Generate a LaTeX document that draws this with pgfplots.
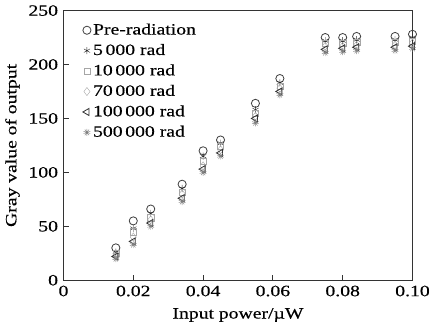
\documentclass[border=0pt]{standalone}
\usepackage{fontspec}
\setmainfont[FakeStretch=1.25,FakeBold=0.4]{Liberation Serif}
\usepackage{pgfplots}
\pgfplotsset{compat=1.18}
\usetikzlibrary{plotmarks}
\pgfplotstableread{
x pre r5k r10k r70k r100k r500k
0.015 30 26 25 23 22 20
0.020 55 48 45 40 36 33
0.025 66 62 58 56 53 50
0.034 89 85 82 80 76 73
0.040 120 115 110 106 103 100
0.045 130 127 124 121 118 115
0.055 164 158 155 152 150 146
0.062 187 183 180 178 175 172
0.075 225 222 220 217 214 211
0.080 225 222 220 217 215 212
0.084 226 223 221 218 216 213
0.095 226 223 221 218 216 213
0.100 228 225 222 220 217 215
}\data
\begin{document}
\fontsize{15.5}{18}\selectfont
\begin{tikzpicture}
\begin{axis}[
  scale only axis, width=343pt, height=265pt,
  xmin=0, xmax=0.1, ymin=0, ymax=250,
  xtick={0,0.02,0.04,0.06,0.08,0.1},
  xticklabels={0,0.02,0.04,0.06,0.08,0.10},
  ytick={0,50,100,150,200,250},
  tick pos=left, tick align=inside,
  major tick length=5pt,
  /pgf/number format/assume math mode=true,
  tick label style={font=\fontsize{15.5}{18}\selectfont},
  label style={font=\fontsize{15.5}{18}\selectfont},
  xlabel={Input\hspace{0.3em}power/\textmu W},
  ylabel={Gray\hspace{0.3em}value\hspace{0.3em}of\hspace{0.3em}output},
  xlabel style={yshift=-1pt},
  ylabel style={yshift=-2pt},
  axis line style={line width=1.1pt, black!80},
  every tick/.style={line width=1pt, black!80},
  legend style={draw=none, fill=none, at={(0.055,0.96)}, anchor=north west,
    font=\fontsize{15.5}{18}\selectfont, row sep=3pt, inner sep=0pt},
  legend cell align=left,
  legend image code/.code={\draw[#1] (0cm,0cm) plot coordinates {(0cm,0cm)};},
]
\addplot[only marks, mark=o, mark size=4pt, black!75, thick] table[x=x,y=pre] {\data};
\addlegendentry{Pre-radiation}
\addplot[only marks, mark=asterisk, mark size=3.5pt, black!85] table[x=x,y=r5k] {\data};
\addlegendentry{5\,000 rad}
\addplot[only marks, mark=square, mark size=3pt, black!35] table[x=x,y=r10k] {\data};
\addlegendentry{10\,000 rad}
\addplot[only marks, mark=diamond, mark size=4pt, black!35] table[x=x,y=r70k] {\data};
\addlegendentry{70\,000 rad}
\addplot[only marks, mark=triangle, mark size=4pt, mark options={rotate=90}, black!80, thick] table[x=x,y=r100k] {\data};
\addlegendentry{100\,000 rad}
\addplot[only marks, mark=10-pointed star, mark size=3.5pt, black!50] table[x=x,y=r500k] {\data};
\addlegendentry{500\,000 rad}
\end{axis}
\end{tikzpicture}
\end{document}
